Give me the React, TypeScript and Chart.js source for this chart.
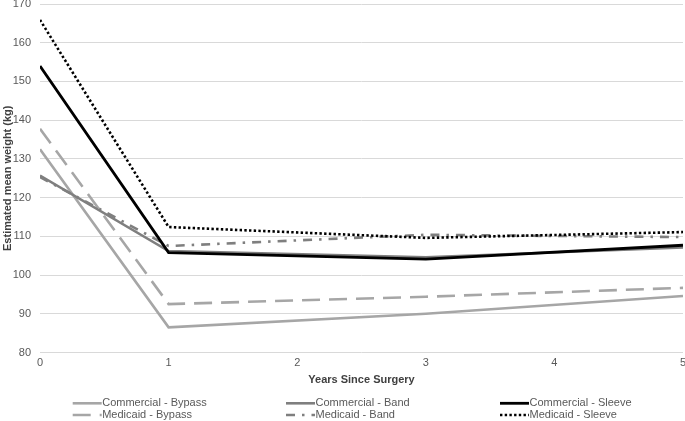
import React, { useEffect, useRef } from "react";
import { Chart, registerables } from "chart.js";

Chart.register(...registerables);

// ---- data ----
const years = [0, 1, 3, 5];
const seriesNames = [
  "Commercial - Bypass",
  "Commercial - Band",
  "Commercial - Sleeve",
  "Medicaid - Bypass",
  "Medicaid - Band",
  "Medicaid - Sleeve",
];
const commercialBypass = [132.5, 86.5, 90.0, 94.6];
const commercialBand = [125.7, 106.2, 104.6, 107.1];
const commercialSleeve = [154.0, 105.8, 104.1, 107.7];
const medicaidBypass = [137.8, 92.5, 94.4, 96.7];
const medicaidBand = [125.3, 107.5, 110.4, 109.8];
const medicaidSleeve = [165.9, 112.4, 109.6, 111.1];
const xTickValues = [0, 1, 2, 3, 4, 5];
const yTickValues = [80, 90, 100, 110, 120, 130, 140, 150, 160, 170];
const xTitle = "Years Since Surgery";
const yTitle = "Estimated mean weight (kg)";

// ---- styles ----
const seriesValues = [
  commercialBypass,
  commercialBand,
  commercialSleeve,
  medicaidBypass,
  medicaidBand,
  medicaidSleeve,
];
const seriesColors = ["#a6a6a6", "#7f7f7f", "#000000", "#a6a6a6", "#7f7f7f", "#000000"];
const seriesDash: number[][] = [[], [], [], [18, 9], [9, 7, 2.5, 7], [2.4, 2.3]];
const seriesWidth = [2.6, 2.6, 2.8, 2.6, 2.6, 2.6];
const seriesOrder = [5, 3, 0, 4, 2, 1];

const FONT = "'Liberation Sans', Arial, sans-serif";

const legendPlugin = {
  id: "gridLegend",
  afterDraw(chart: any) {
    const ctx = chart.ctx;
    const colX = [72.7, 286, 500];
    const rowY = [403.3, 415];
    const lineLen = 29;
    ctx.save();
    chart.data.datasets.forEach((ds: any, i: number) => {
      const col = i % 3;
      const row = Math.floor(i / 3);
      const x = colX[col];
      const y = rowY[row];
      ctx.beginPath();
      ctx.setLineDash(ds.borderDash || []);
      ctx.lineWidth = ds.borderWidth;
      ctx.strokeStyle = ds.borderColor;
      ctx.moveTo(x, y);
      ctx.lineTo(x + lineLen, y);
      ctx.stroke();
      ctx.setLineDash([]);
      ctx.fillStyle = "#595959";
      ctx.font = `11px ${FONT}`;
      ctx.textBaseline = "middle";
      ctx.textAlign = "left";
      ctx.fillText(ds.label, x + lineLen + 0.5, y);
    });
    ctx.restore();
  },
};

export default function App() {
  const ref = useRef<HTMLCanvasElement | null>(null);

  useEffect(() => {
    if (!ref.current) return;
    Chart.defaults.font.family = FONT;
    const chart = new Chart(ref.current, {
      type: "line",
      data: {
        datasets: seriesNames.map((name, i) => ({
          label: name,
          data: years.map((yr, j) => ({ x: yr, y: seriesValues[i][j] })),
          borderColor: seriesColors[i],
          backgroundColor: seriesColors[i],
          borderDash: seriesDash[i],
          borderWidth: seriesWidth[i],
          pointRadius: 0,
          tension: 0,
          fill: false,
          order: seriesOrder[i],
          borderCapStyle: "butt",
        })),
      },
      options: {
        responsive: false,
        animation: false,
        devicePixelRatio: 1,
        layout: { padding: { left: 0, right: 2, top: 4, bottom: 34.4 } },
        plugins: {
          legend: { display: false },
          tooltip: { enabled: false },
        },
        scales: {
          x: {
            type: "linear",
            min: 0,
            max: 5,
            afterBuildTicks: (scale: any) => {
              scale.ticks = xTickValues.map((v) => ({ value: v }));
            },
            ticks: { color: "#595959", font: { size: 11 }, padding: 4, maxRotation: 0 },
            grid: { display: false, drawTicks: false },
            border: { display: false },
            title: {
              display: true,
              text: xTitle,
              color: "#404040",
              font: { size: 11, weight: "bold" },
              padding: 0,
            },
            afterFit: (scale: any) => {
              scale.height = 34.1;
              scale.paddingLeft = 0;
              scale.paddingRight = 0;
            },
          },
          y: {
            min: 80,
            max: 170,
            afterBuildTicks: (scale: any) => {
              scale.ticks = yTickValues.map((v) => ({ value: v }));
            },
            ticks: { color: "#595959", font: { size: 11 }, padding: 9 },
            grid: { color: "#d9d9d9", lineWidth: 1, drawTicks: false },
            border: { display: false },
            title: {
              display: true,
              text: yTitle,
              color: "#404040",
              font: { size: 11, weight: "bold" },
              padding: { top: 1.5, bottom: 0 },
            },
            afterFit: (scale: any) => {
              scale.width = 40;
              scale.paddingTop = 0;
              scale.paddingBottom = 0;
            },
          },
        },
      },
      plugins: [legendPlugin],
    } as any);
    return () => chart.destroy();
  }, []);

  return (
    <div style={{ position: "absolute", left: 0, top: 0, width: 685, height: 421 }}>
      <canvas ref={ref} width={685} height={421} />
    </div>
  );
}
